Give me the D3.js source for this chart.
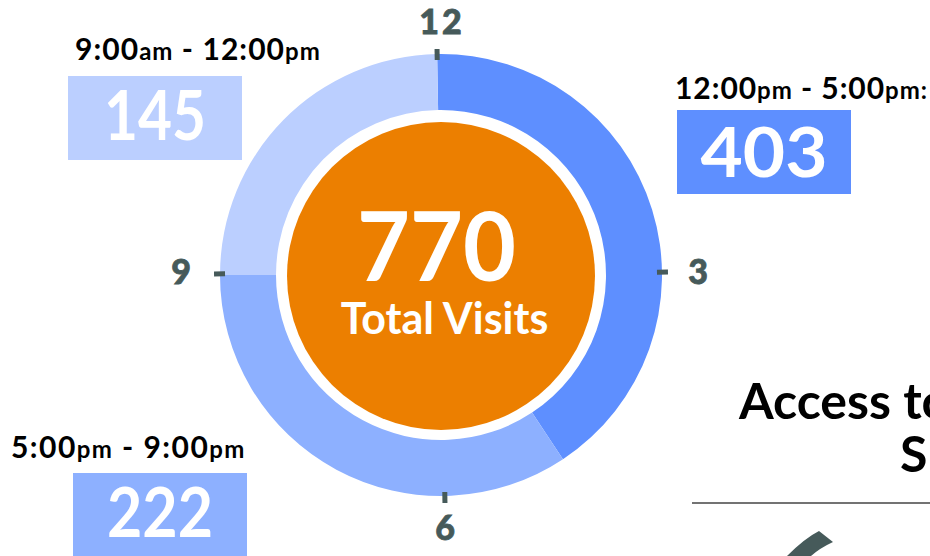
<!DOCTYPE html>
<html>
<head>
<meta charset="utf-8">
<script src="https://cdn.jsdelivr.net/npm/d3@7"></script>
<style>
  html, body { margin: 0; padding: 0; background: #fff; overflow: hidden; }
  text { font-family: Lato, sans-serif; font-weight: 700; }
</style>
</head>
<body>
<svg id="chart" width="930" height="556"></svg>
<script>
// the ring follows the clock and not the visit counts, sweeps in degrees
let slotNames = ['12:00pm - 5:00pm', '5:00pm - 9:00pm', '9:00am - 12:00pm'];
let slotSweeps = [147.5, 123.5, 89];
let slotVisits = [403, 222, 145];
let slotColors = ['#5e8fff', '#8db0ff', '#bbcfff'];
let clockLabels = ['12', '3', '6', '9'];
let clockHours = [0, 3, 6, 9];
let totalVisits = 770;

let svg = d3.select('#chart');
let cx = 441, cy = 275;
let startOffset = -1 * Math.PI / 180;

let ringGroup = svg.append('g').attr('transform', `translate(${cx},${cy})`);

let pie = d3.pie()
    .sort(null)
    .startAngle(startOffset)
    .endAngle(2 * Math.PI + startOffset);
let arc = d3.arc().innerRadius(165).outerRadius(221);

ringGroup.selectAll('path.slot')
    .data(pie(slotSweeps))
    .enter().append('path')
    .attr('class', 'slot')
    .attr('d', arc)
    .attr('fill', (d, i) => slotColors[i]);

// center disc
ringGroup.append('circle').attr('r', 154).attr('cy', 1).attr('fill', '#ec7f00');
ringGroup.append('text')
    .attr('x', -4.5).attr('y', 6)
    .attr('text-anchor', 'middle')
    .attr('font-size', 96)
    .attr('textLength', 159)
    .attr('lengthAdjust', 'spacingAndGlyphs')
    .attr('fill', '#fff')
    .text(totalVisits);
ringGroup.append('text')
    .attr('x', 3.5).attr('y', 59)
    .attr('text-anchor', 'middle')
    .attr('font-size', 43)
    .attr('fill', '#fff')
    .text('Total Visits');

// clock ticks, the one at 9 sits a bit higher in the reference
let clockScale = d3.scaleLinear().domain([0, 12]).range([startOffset, 2 * Math.PI + startOffset]);
let tickNudge = [0, 0, 0, -6];
ringGroup.selectAll('rect.tick')
    .data(clockHours)
    .enter().append('rect')
    .attr('class', 'tick')
    .attr('x', -2.5).attr('y', -227)
    .attr('width', 5).attr('height', 11)
    .attr('fill', '#465a5a')
    .attr('transform', (d, i) => `translate(0,${1 + tickNudge[i]}) rotate(${clockScale(d) * 180 / Math.PI})`);

let clockLabelX = [442, 698, 445, 181];
let clockLabelY = [34, 284, 540, 284];
svg.selectAll('text.clock')
    .data(clockLabels)
    .enter().append('text')
    .attr('class', 'clock')
    .attr('x', (d, i) => clockLabelX[i])
    .attr('y', (d, i) => clockLabelY[i])
    .attr('text-anchor', 'middle')
    .attr('font-size', 34)
    .style('font-weight', 900)
    .style('letter-spacing', (d, i) => i === 0 ? '3px' : '0')
    .attr('fill', '#465a5a')
    .attr('stroke', '#465a5a')
    .attr('stroke-width', 0.8)
    .text(d => d);

// time slot labels, positions follow the order of slotNames
let boxX = [677, 73, 68];
let boxY = [110, 473, 76];
let valueDrop = [67, 64, 64];
let valueWidth = [127, 106, 102];
let nameX = [675, 11, 75];
let nameY = [99, 458, 60];
let nameSpacing = [0.95, 1.45, 1.05];

let slots = svg.selectAll('g.slotBox')
    .data(slotNames)
    .enter().append('g')
    .attr('class', 'slotBox');
slots.append('rect')
    .attr('x', (d, i) => boxX[i]).attr('y', (d, i) => boxY[i])
    .attr('width', 174).attr('height', 84)
    .attr('fill', (d, i) => slotColors[i]);
slots.append('text')
    .attr('x', (d, i) => boxX[i] + 87).attr('y', (d, i) => boxY[i] + valueDrop[i])
    .attr('text-anchor', 'middle')
    .attr('font-size', 69)
    .attr('textLength', (d, i) => valueWidth[i])
    .attr('lengthAdjust', 'spacingAndGlyphs')
    .attr('fill', '#fff')
    .text((d, i) => slotVisits[i]);
let nameText = slots.append('text')
    .attr('x', (d, i) => nameX[i]).attr('y', (d, i) => nameY[i])
    .attr('font-size', 30)
    .style('letter-spacing', (d, i) => nameSpacing[i] + 'px')
    .attr('fill', '#000');
nameText.each(function(d, i) {
    let parts = d.match(/\d+:\d+|am|pm| - /g);
    let t = d3.select(this);
    parts.forEach(p => {
        t.append('tspan')
            .attr('font-size', (p === 'am' || p === 'pm') ? 24 : 30)
            .style('white-space', 'pre')
            .text(p);
    });
    if (i === 0) t.append('tspan').attr('font-size', 24).text(':');
});

// next panel, cut by the edge of the picture
svg.append('text')
    .attr('x', 739).attr('y', 419)
    .attr('font-size', 50)
    .attr('fill', '#000')
    .text('Access to');
svg.append('text')
    .attr('x', 900).attr('y', 472)
    .attr('font-size', 50)
    .attr('fill', '#000')
    .text('S');
svg.append('line')
    .attr('x1', 692).attr('x2', 930)
    .attr('y1', 503).attr('y2', 503)
    .attr('stroke', '#444').attr('stroke-width', 1.5);
svg.append('path')
    .attr('d', 'M787 556 Q805 538 819 531 L833 542 Q820 548 811 556 Z')
    .attr('fill', '#465a5a');
</script>
</body>
</html>
